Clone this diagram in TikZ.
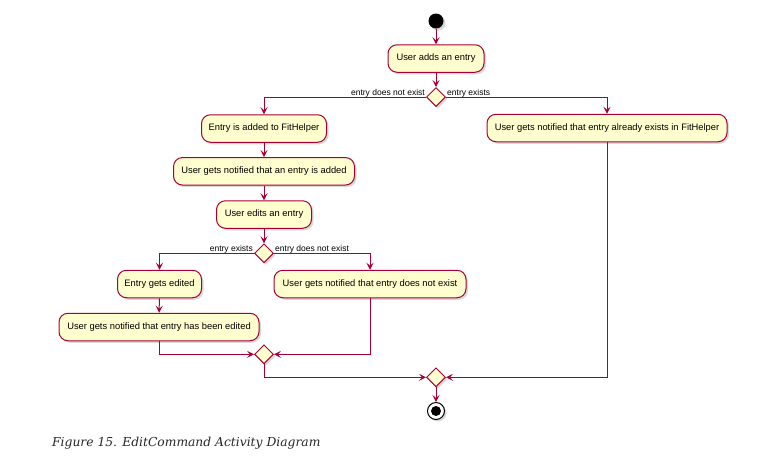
\documentclass[tikz,border=0pt]{standalone}
\usepackage{fontspec}
\setmainfont{Liberation Sans}
\newfontfamily\capfont{DejaVu Serif}
\usetikzlibrary{shapes.geometric,arrows.meta,shadows}
\definecolor{umlline}{HTML}{A80036}
\definecolor{umlfill}{HTML}{FEFECE}
\definecolor{capcol}{HTML}{262626}
\tikzset{
  actbox/.style={draw=umlline, fill=umlfill, line width=1pt, rounded corners=9pt,
    minimum height=27.5pt, inner xsep=6pt, font=\fontsize{9.35}{11}\selectfont,
    drop shadow={shadow xshift=2pt, shadow yshift=-2pt, opacity=0.25, fill=black!60}},
  decide/.style={diamond, draw=umlline, fill=umlfill, line width=1pt, minimum width=19pt,
    minimum height=19pt, inner sep=0pt, aspect=1,
    drop shadow={shadow xshift=2pt, shadow yshift=-2pt, opacity=0.25, fill=black!60}},
  flow/.style={draw=umlline, line width=1pt, -{Stealth[length=7pt,width=7pt,inset=3pt]}},
  guard/.style={font=\fontsize{8.5}{10}\selectfont, inner sep=1pt, yshift=1.5pt},
}
\begin{document}
\begin{tikzpicture}[x=1pt,y=-1pt]
\useasboundingbox (0,0) rectangle (764,459);
\node[circle, fill=black, minimum size=15pt, inner sep=0pt,
  drop shadow={shadow xshift=2pt, shadow yshift=-2pt, opacity=0.25, fill=black!60}] (start) at (436,21) {};
\node[actbox, minimum width=96pt] (a1) at (436,58.5) {User adds an entry};
\node[decide] (d1) at (436,97) {};
\node[actbox, minimum width=125pt] (a2) at (264,128.5) {Entry is added to FitHelper};
\node[actbox, minimum width=240pt] (a3) at (607,128) {User gets notified that entry already exists in FitHelper};
\node[actbox, minimum width=181pt] (a4) at (264,171.3) {User gets notified that an entry is added};
\node[actbox, minimum width=95pt] (a5) at (264,214.5) {User edits an entry};
\node[decide] (d2) at (264,253.3) {};
\node[actbox, minimum width=84pt] (a6) at (159.5,284) {Entry gets edited};
\node[actbox, minimum width=192pt] (a7) at (370,284) {User gets notified that entry does not exist};
\node[actbox, minimum width=200pt] (a8) at (159,327) {User gets notified that entry has been edited};
\node[decide] (d3) at (264,354.3) {};
\node[decide] (d4) at (436,377.3) {};
\node[circle, draw=black, fill=white, line width=1pt, minimum size=17pt, inner sep=0pt,
  drop shadow={shadow xshift=2pt, shadow yshift=-2pt, opacity=0.25, fill=black!60}] (end) at (436,411) {};
\node[circle, fill=black, minimum size=10pt, inner sep=0pt] (endin) at (end.center) {};

\draw[flow] (start) -- (a1);
\draw[flow] (a1) -- (d1);
\draw[flow] (d1.west) -| (a2.north);
\draw[flow] (d1.east) -| (a3.north);
\node[guard, anchor=base east] (g1) at (d1.west) {entry does not exist};
\node[guard, anchor=base west] (g2) at (d1.east) {entry exists};
\draw[flow] (a2) -- (a4);
\draw[flow] (a4) -- (a5);
\draw[flow] (a5) -- (d2);
\draw[flow] (d2.west) -| (a6.north);
\draw[flow] (d2.east) -| (a7.north);
\node[guard, anchor=base east] (g3) at (d2.west) {entry exists};
\node[guard, anchor=base west] (g4) at (d2.east) {entry does not exist};
\draw[flow] (a6) -- (a8);
\draw[flow] (a8.south) |- (d3.west);
\draw[flow] (a7.south) |- (d3.east);
\draw[flow] (d3.south) |- (d4.west);
\draw[flow] (a3.south) |- (d4.east);
\draw[flow] (d4) -- (end);

\node[anchor=base west, inner sep=0pt, text=capcol, font=\capfont\itshape\fontsize{12.3}{14}\selectfont] (cap) at (52,446.5) {Figure 15. EditCommand Activity Diagram};
\end{tikzpicture}
\end{document}
